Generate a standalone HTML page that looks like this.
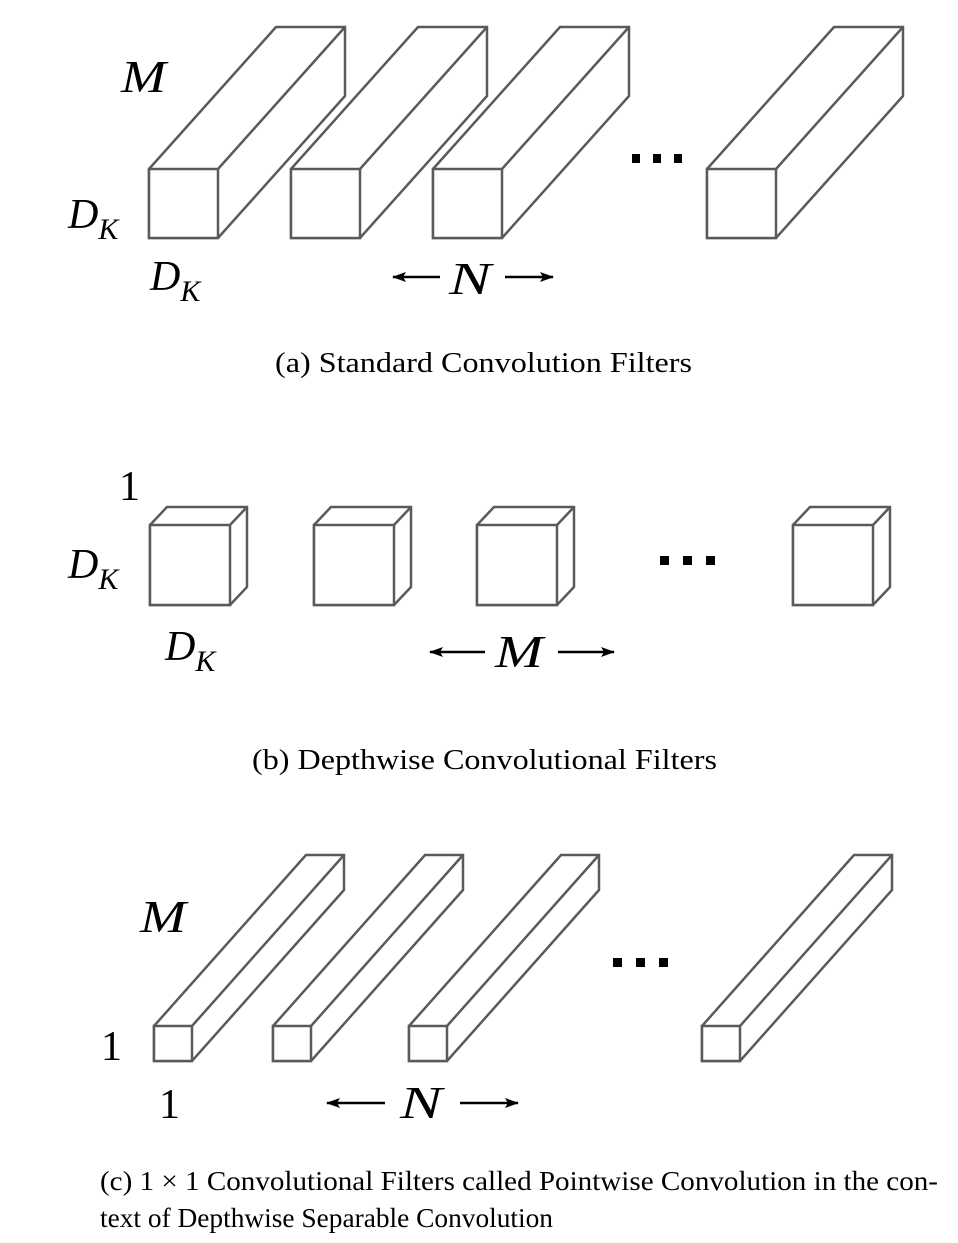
<!DOCTYPE html>
<html><head><meta charset="utf-8"><style>
html,body{margin:0;padding:0;background:#fff;}
svg{display:block;}
.b{fill:#fff;stroke:#5a5a5a;stroke-width:2.5;stroke-linejoin:miter;}
.l{stroke:#5a5a5a;stroke-width:2.5;fill:none;}
.m{font-family:"Liberation Serif",serif;font-style:italic;fill:#000;}
.r{font-family:"Liberation Serif",serif;fill:#000;}
</style></head><body>
<svg width="958" height="1243" viewBox="0 0 958 1243" xmlns="http://www.w3.org/2000/svg">
<defs><marker id="ah" markerWidth="14" markerHeight="10" refX="13" refY="5" orient="auto" markerUnits="userSpaceOnUse"><path d="M0,0 L14,5 L0,10 L3,5 Z" fill="#000"/></marker></defs>
<!-- (a) -->
<g>
<path class="b" d="M149,238 L149,169 L276,27 L345,27 L345,96 L218,238 Z"/><rect class="b" x="149" y="169" width="69" height="69"/><line class="l" x1="218" y1="169" x2="345" y2="27"/>
<path class="b" d="M291,238 L291,169 L418,27 L487,27 L487,96 L360,238 Z"/><rect class="b" x="291" y="169" width="69" height="69"/><line class="l" x1="360" y1="169" x2="487" y2="27"/>
<path class="b" d="M433,238 L433,169 L560,27 L629,27 L629,96 L502,238 Z"/><rect class="b" x="433" y="169" width="69" height="69"/><line class="l" x1="502" y1="169" x2="629" y2="27"/>
<path class="b" d="M707,238 L707,169 L834,27 L903,27 L903,96 L776,238 Z"/><rect class="b" x="707" y="169" width="69" height="69"/><line class="l" x1="776" y1="169" x2="903" y2="27"/>
<rect x="632" y="154" width="8" height="9"/><rect x="653" y="154" width="8" height="9"/><rect x="674" y="154" width="8" height="9"/>
<text class="m" x="121" y="92" font-size="46" textLength="45" lengthAdjust="spacingAndGlyphs">M</text>
<text class="m" x="68" y="228" font-size="42">D<tspan font-size="30" dy="11">K</tspan></text>
<text class="m" x="150" y="290" font-size="42">D<tspan font-size="30" dy="11">K</tspan></text>
<line x1="440" y1="277" x2="393" y2="277" stroke="#000" stroke-width="2.5" marker-end="url(#ah)"/>
<text class="m" x="449" y="294" font-size="46" textLength="42" lengthAdjust="spacingAndGlyphs">N</text>
<line x1="505" y1="277" x2="553" y2="277" stroke="#000" stroke-width="2.5" marker-end="url(#ah)"/>
<text class="r" x="275" y="372" font-size="28" textLength="417" lengthAdjust="spacingAndGlyphs">(a)  Standard Convolution Filters</text>
</g>
<!-- (b) -->
<g>
<path class="b" d="M150,605 L150,525 L167,507 L247,507 L247,587 L230,605 Z"/><rect class="b" x="150" y="525" width="80" height="80"/><line class="l" x1="230" y1="525" x2="247" y2="507"/>
<path class="b" d="M314,605 L314,525 L331,507 L411,507 L411,587 L394,605 Z"/><rect class="b" x="314" y="525" width="80" height="80"/><line class="l" x1="394" y1="525" x2="411" y2="507"/>
<path class="b" d="M477,605 L477,525 L494,507 L574,507 L574,587 L557,605 Z"/><rect class="b" x="477" y="525" width="80" height="80"/><line class="l" x1="557" y1="525" x2="574" y2="507"/>
<path class="b" d="M793,605 L793,525 L810,507 L890,507 L890,587 L873,605 Z"/><rect class="b" x="793" y="525" width="80" height="80"/><line class="l" x1="873" y1="525" x2="890" y2="507"/>
<rect x="660" y="556" width="9" height="9"/><rect x="683" y="556" width="9" height="9"/><rect x="706" y="556" width="9" height="9"/>
<text class="r" x="119" y="500" font-size="42">1</text>
<text class="m" x="68" y="578" font-size="42">D<tspan font-size="30" dy="11">K</tspan></text>
<text class="m" x="165" y="660" font-size="42">D<tspan font-size="30" dy="11">K</tspan></text>
<line x1="485" y1="652" x2="430" y2="652" stroke="#000" stroke-width="2.5" marker-end="url(#ah)"/>
<text class="m" x="495" y="667" font-size="46" textLength="48" lengthAdjust="spacingAndGlyphs">M</text>
<line x1="558" y1="652" x2="614" y2="652" stroke="#000" stroke-width="2.5" marker-end="url(#ah)"/>
<text class="r" x="252" y="769" font-size="28" textLength="465" lengthAdjust="spacingAndGlyphs">(b)  Depthwise Convolutional Filters</text>
</g>
<!-- (c) -->
<g>
<path class="b" d="M154,1061 L154,1026 L306,855 L344,855 L344,890 L192,1061 Z"/><rect class="b" x="154" y="1026" width="38" height="35"/><line class="l" x1="192" y1="1026" x2="344" y2="855"/>
<path class="b" d="M273,1061 L273,1026 L425,855 L463,855 L463,890 L311,1061 Z"/><rect class="b" x="273" y="1026" width="38" height="35"/><line class="l" x1="311" y1="1026" x2="463" y2="855"/>
<path class="b" d="M409,1061 L409,1026 L561,855 L599,855 L599,890 L447,1061 Z"/><rect class="b" x="409" y="1026" width="38" height="35"/><line class="l" x1="447" y1="1026" x2="599" y2="855"/>
<path class="b" d="M702,1061 L702,1026 L854,855 L892,855 L892,890 L740,1061 Z"/><rect class="b" x="702" y="1026" width="38" height="35"/><line class="l" x1="740" y1="1026" x2="892" y2="855"/>
<rect x="613" y="958" width="9" height="9"/><rect x="636" y="958" width="9" height="9"/><rect x="659" y="958" width="9" height="9"/>
<text class="m" x="140" y="932" font-size="46" textLength="46" lengthAdjust="spacingAndGlyphs">M</text>
<text class="r" x="101" y="1060" font-size="42">1</text>
<text class="r" x="159" y="1118" font-size="42">1</text>
<line x1="385" y1="1103" x2="327" y2="1103" stroke="#000" stroke-width="2.5" marker-end="url(#ah)"/>
<text class="m" x="400" y="1118" font-size="46" textLength="42" lengthAdjust="spacingAndGlyphs">N</text>
<line x1="460" y1="1103" x2="518" y2="1103" stroke="#000" stroke-width="2.5" marker-end="url(#ah)"/>
<text class="r" x="100" y="1190" font-size="27" textLength="838" lengthAdjust="spacingAndGlyphs">(c)  1 × 1 Convolutional Filters called Pointwise Convolution in the con-</text>
<text class="r" x="100" y="1227" font-size="27" textLength="453" lengthAdjust="spacingAndGlyphs">text of Depthwise Separable Convolution</text>
</g>
</svg>
</body></html>
